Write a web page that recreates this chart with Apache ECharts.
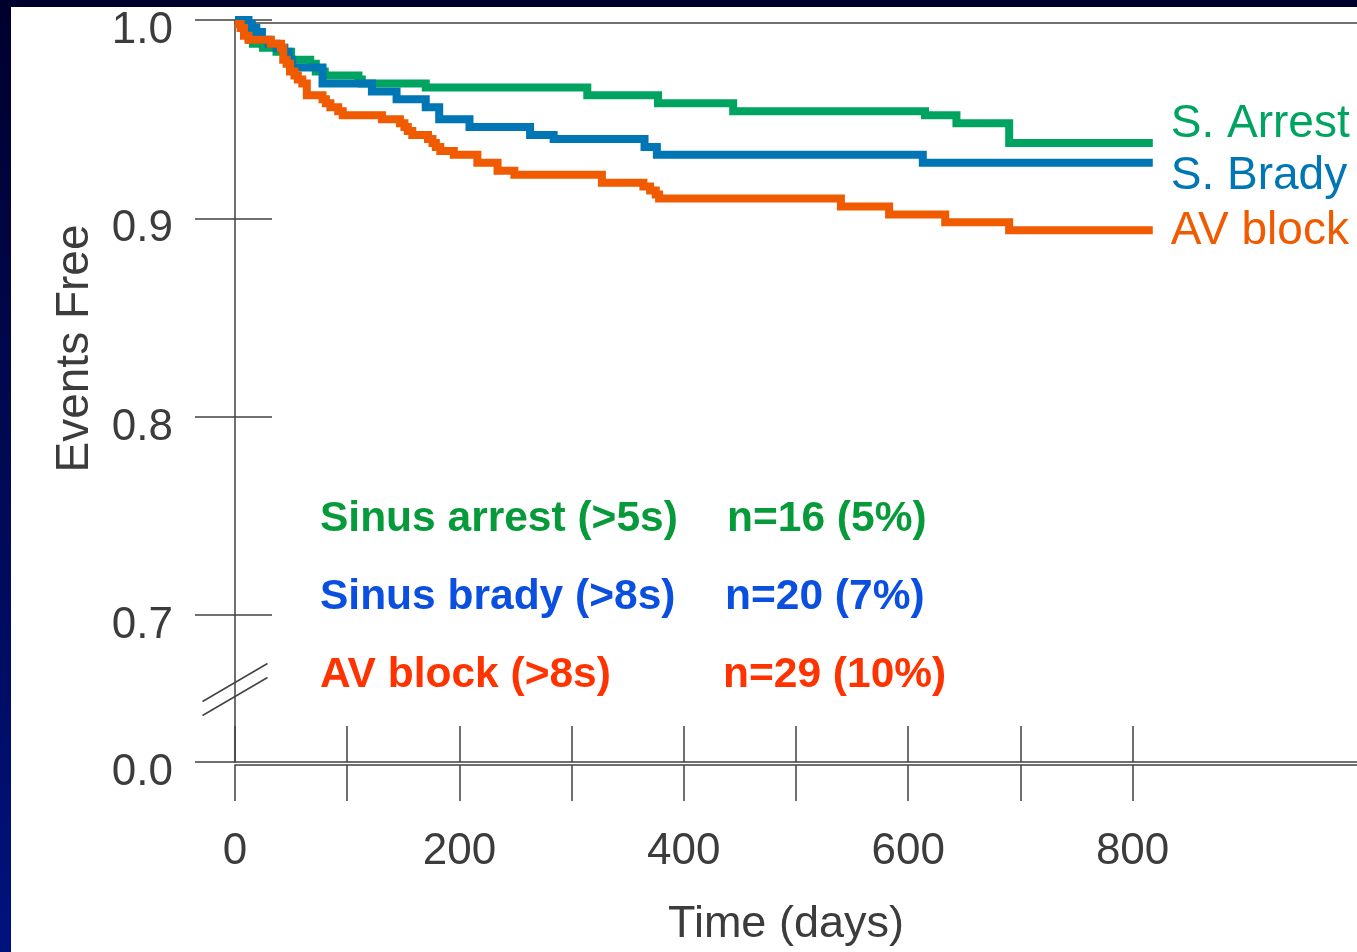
<!DOCTYPE html>
<html><head><meta charset="utf-8">
<script src="https://cdn.jsdelivr.net/npm/echarts@6/dist/echarts.min.js"></script>
<style>
html,body{margin:0;padding:0;width:1357px;height:952px;overflow:hidden;background:linear-gradient(to bottom,#00002e 0%,#000a58 55%,#00127e 100%);}
#paper{position:absolute;left:11px;top:7px;right:0;bottom:0;background:#fff;}
#chart{position:absolute;left:0;top:0;width:1357px;height:952px;}
</style></head><body><div id="paper"></div><div id="chart"></div>
<script>
// ---- data ----
const seriesNames = ['S. Arrest', 'S. Brady', 'AV block'];
const arrestTimes  = [0,7,10,13,16,25,37,50,67,72,80,110,113,170,314,377,444,615,643,690,818];
const arrestValues = [1.000,0.996,0.994,0.990,0.988,0.986,0.984,0.980,0.978,0.974,0.972,0.970,0.968,0.966,0.962,0.958,0.954,0.952,0.948,0.938,0.938];
const bradyTimes   = [0,12,15,19,24,30,37,44,48,51,78,122,144,170,182,209,263,284,365,376,613,818];
const bradyValues  = [1.000,0.998,0.996,0.994,0.990,0.988,0.986,0.984,0.980,0.976,0.968,0.964,0.960,0.956,0.950,0.946,0.942,0.940,0.936,0.932,0.928,0.928];
const avTimes      = [0,5,8,12,32,41,43,46,49,53,56,60,64,78,81,85,92,96,131,147,151,154,158,172,176,179,183,195,216,234,249,327,364,370,375,378,540,583,633,690,818];
const avValues     = [0.998,0.996,0.992,0.990,0.988,0.986,0.980,0.978,0.974,0.972,0.970,0.968,0.962,0.960,0.958,0.956,0.954,0.952,0.950,0.948,0.946,0.944,0.942,0.940,0.938,0.936,0.934,0.932,0.928,0.924,0.922,0.918,0.916,0.914,0.912,0.910,0.906,0.902,0.898,0.894,0.894];
const yBreakValue  = 0.6259;            // axis position drawn as "0.0" (broken axis)
const yTickValues  = [0.7, 0.8, 0.9, 1.0];
const yBreakLabel  = '0.0';
const xTickValues  = [0,100,200,300,400,500,600,700,800];
const xLabelValues = [0,200,400,600,800];
const annotLeft  = ['Sinus arrest (>5s)', 'Sinus brady (>8s)', 'AV block (>8s)'];
const annotRight = ['n=16 (5%)', 'n=20 (7%)', 'n=29 (10%)'];

// ---- styles ----
const lineColors = ['#00a35f', '#0076b4', '#f05a00'];
const textColors = ['#079a3a', '#0a4fe0', '#ff3300'];
const axisColor = '#424242';
const labelColor = '#3c3c3c';
const FONT = '"Liberation Sans", Arial, Helvetica, sans-serif';

function stepData(t, v) {
  const out = [[t[0], v[0]]];
  for (let i = 1; i < t.length; i++) {
    out.push([t[i], v[i - 1]]);
    out.push([t[i], v[i]]);
  }
  return out;
}
const curves = [
  {name: seriesNames[0], t: arrestTimes, v: arrestValues},
  {name: seriesNames[1], t: bradyTimes, v: bradyValues},
  {name: seriesNames[2], t: avTimes, v: avValues}
];

const chart = echarts.init(document.getElementById('chart'), null, {renderer: 'canvas'});
const grid = {left: 235, top: 20, width: 1124.4, height: 746};
const yLabelFmt = v => Math.abs(v - yBreakValue) < 1e-6 ? yBreakLabel : v.toFixed(1);

const option = {
  backgroundColor: 'transparent',
  animation: false,
  grid: grid,
  xAxis: [
    { type: 'value', position: 'bottom', min: 0, max: 1000, offset: 0,
      axisLine: {show: true, lineStyle: {color: axisColor, width: 1.5}},
      axisTick: {show: true, inside: true, length: 36, customValues: xTickValues, lineStyle: {color: axisColor, width: 1.5}},
      axisLabel: {show: false}, splitLine: {show: false} },
    { type: 'value', position: 'bottom', min: 0, max: 1000, offset: 3,
      axisLine: {show: true, lineStyle: {color: axisColor, width: 1.5}},
      axisTick: {show: true, inside: false, length: 36, customValues: xTickValues, lineStyle: {color: axisColor, width: 1.5}},
      axisLabel: {show: true, customValues: xLabelValues, margin: 65, color: labelColor, fontSize: 44, fontFamily: FONT},
      splitLine: {show: false},
      name: 'Time (days)', nameLocation: 'middle', nameGap: 137,
      nameTextStyle: {color: labelColor, fontSize: 45, fontFamily: FONT, padding: [0, 20, 0, 0]} },
    { type: 'value', position: 'top', min: 0, max: 1000, offset: -3,
      axisLine: {show: true, lineStyle: {color: axisColor, width: 1.5}},
      axisTick: {show: false}, axisLabel: {show: false}, splitLine: {show: false} }
  ],
  yAxis: [
    { type: 'value', position: 'left', min: yBreakValue, max: 1.0,
      axisLine: {show: true, lineStyle: {color: axisColor, width: 1.5}},
      axisTick: {show: true, inside: false, length: 40, customValues: [yBreakValue].concat(yTickValues), lineStyle: {color: axisColor, width: 1.5}},
      axisLabel: {show: true, customValues: [yBreakValue].concat(yTickValues), formatter: yLabelFmt, margin: 62,
        color: labelColor, fontSize: 44, fontFamily: FONT, verticalAlign: 'top', lineHeight: 22},
      splitLine: {show: false},
      name: 'Events Free', nameLocation: 'middle', nameRotate: 90, nameGap: 137,
      nameTextStyle: {color: labelColor, fontSize: 46, fontFamily: FONT, padding: [0, 0, 0, 85]} },
    { type: 'value', position: 'left', min: yBreakValue, max: 1.0,
      axisLine: {show: false},
      axisTick: {show: true, inside: true, length: 37, customValues: yTickValues, lineStyle: {color: axisColor, width: 1.5}},
      axisLabel: {show: false}, splitLine: {show: false} }
  ],
  series: curves.map((c, i) => ({
    name: c.name, type: 'line', xAxisIndex: 0, yAxisIndex: 0,
    data: stepData(c.t, c.v), showSymbol: false, symbol: 'none', clip: false,
    lineStyle: {color: lineColors[i], width: 8, join: 'miter', cap: 'butt'},
    z: 3 + i
  }))
};
chart.setOption(option);

// decorations derived from axis scale
function px(x, y) { return chart.convertToPixel({xAxisIndex: 0, yAxisIndex: 0}, [x, y]); }
const labelDy = [-18.5, 14, 1];
const g = [];
curves.forEach((c, i) => {
  const n = c.t.length;
  const p = px(c.t[n - 1], c.v[n - 1]);
  g.push({type: 'text', x: p[0] + 18, y: p[1] + labelDy[i], z: 10,
    style: {text: c.name, fill: lineColors[i], fontSize: 46, fontFamily: FONT, align: 'left', verticalAlign: 'middle'}});
});
// axis break marks
const ax = px(0, 1.0)[0];
const my = (px(0, yTickValues[0])[1] + px(0, yBreakValue)[1]) / 2;
[-6, 8].forEach(d => {
  g.push({type: 'line', z: 10, shape: {x1: ax - 32.5, y1: my + d + 19, x2: ax + 32.5, y2: my + d - 19},
    style: {stroke: axisColor, lineWidth: 1.5}});
});
// annotation block
const annotY = [519, 597, 675];
const annotX2 = [727, 725, 723];
annotLeft.forEach((s, i) => {
  g.push({type: 'text', x: 320, y: annotY[i], z: 10,
    style: {text: s, fill: textColors[i], fontSize: 42.5, fontWeight: 'bold', fontFamily: FONT, align: 'left', verticalAlign: 'middle'}});
  g.push({type: 'text', x: annotX2[i], y: annotY[i], z: 10,
    style: {text: annotRight[i], fill: textColors[i], fontSize: 42.5, fontWeight: 'bold', fontFamily: FONT, align: 'left', verticalAlign: 'middle'}});
});
chart.setOption({graphic: g});
</script></body></html>
